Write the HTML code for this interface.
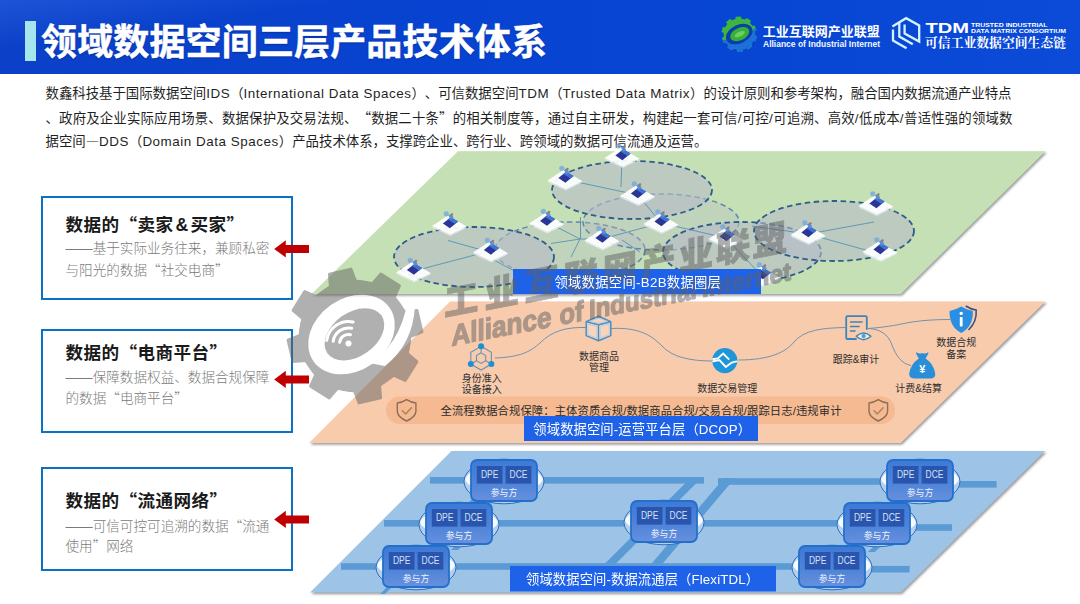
<!DOCTYPE html>
<html lang="zh-CN">
<head>
<meta charset="utf-8">
<title>领域数据空间三层产品技术体系</title>
<style>
html,body{margin:0;padding:0;}
body{width:1080px;height:604px;overflow:hidden;background:#fff;position:relative;
  font-family:"Liberation Sans","Noto Sans CJK SC",sans-serif;}
#hdr{position:absolute;left:0;top:0;width:1080px;height:74.4px;
  background:linear-gradient(172deg,rgba(70,130,245,0.30) 0%,rgba(70,130,245,0) 22%),linear-gradient(90deg,#0c40c8 0%,#0743d0 40%,#0746d3 70%,#0b4bd8 100%);}
#hdr .bar{position:absolute;left:24.5px;top:21px;width:11px;height:39.5px;background:#a5e6ee;}
#hdr h1{position:absolute;left:41px;top:17px;-webkit-text-stroke:0.5px #fff;margin:0;font-size:36px;line-height:52px;font-weight:700;color:#fff;
  white-space:nowrap;letter-spacing:0.15px;text-shadow:0 1px 2px rgba(0,20,90,0.45);}
.para{position:absolute;left:45.5px;white-space:nowrap;font-size:13.4px;line-height:24px;color:#1f1f1f;height:24px;text-spacing-trim:space-all;}
.para .l{letter-spacing:0.55px;}
.para .q{font-family:"Noto Sans CJK SC",sans-serif;font-feature-settings:"fwid";}
.box{text-spacing-trim:space-all;position:absolute;left:41px;width:248px;height:100px;border:2px solid #0a72c4;background:#fff;}
.q{font-family:"Noto Sans CJK SC",sans-serif;font-feature-settings:"fwid";}
.box .t{position:absolute;left:22.5px;font-size:17.6px;line-height:26px;font-weight:700;color:#1a1a1a;white-space:nowrap;letter-spacing:0.4px;}
.box .s{position:absolute;left:22.5px;font-size:13.6px;line-height:21px;color:#7a7a7a;white-space:nowrap;font-weight:300;}
#dia{position:absolute;left:0;top:0;}
</style>
</head>
<body>
<div id="hdr">
  <div class="bar"></div>
  <h1>领域数据空间三层产品技术体系</h1>
</div>

<div class="para" style="top:81.5px" id="p1">数鑫科技基于国际数据空间<span class="l">IDS</span>（<span class="l">International Data Spaces</span>）、可信数据空间<span class="l">TDM</span>（<span class="l">Trusted Data Matrix</span>）的设计原则和参考架构，融合国内数据流通产业特点</div>
<div class="para" style="top:105px;letter-spacing:0.18px" id="p2">、政府及企业实际应用场景、数据保护及交易法规、<span class="q">“</span>数据二十条<span class="q">”</span>的相关制度等，通过自主研发，构建起一套可信<span class="l">/</span>可控<span class="l">/</span>可追溯、高效<span class="l">/</span>低成本<span class="l">/</span>普适性强的领域数</div>
<div class="para" style="top:127.7px" id="p3">据空间<span class="q">—</span><span class="l">DDS</span>（<span class="l">Domain Data Spaces</span>）产品技术体系，支撑跨企业、跨行业、跨领域的数据可信流通及运营。</div>

<div class="box" style="top:196px">
  <div class="t" style="top:13.4px">数据的<span class="q">“</span>卖家<span style="margin:0 2px">&amp;</span>买家<span class="q">”</span></div>
  <div class="s" style="top:39.5px">——基于实际业务往来，兼顾私密</div>
  <div class="s" style="top:60.9px">与阳光的数据<span class="q">“</span>社交电商<span class="q">”</span></div>
</div>
<div class="box" style="top:329px">
  <div class="t" style="top:7.7px">数据的<span class="q">“</span>电商平台<span class="q">”</span></div>
  <div class="s" style="top:36px">——保障数据权益、数据合规保障</div>
  <div class="s" style="top:56px">的数据<span class="q">“</span>电商平台<span class="q">”</span></div>
</div>
<div class="box" style="top:467px">
  <div class="t" style="top:18px">数据的<span class="q">“</span>流通网络<span class="q">”</span></div>
  <div class="s" style="top:45.5px">——可信可控可追溯的数据<span class="q">“</span>流通</div>
  <div class="s" style="top:66.3px">使用<span class="q">”</span>网络</div>
</div>

<svg id="dia" width="1080" height="604" viewBox="0 0 1080 604"
  font-family="'Liberation Sans','Noto Sans CJK SC',sans-serif">
  <defs>
    <filter id="sh" x="-5%" y="-5%" width="110%" height="115%">
      <feGaussianBlur stdDeviation="0.8"/>
    </filter>
  </defs>
  <!-- LAYER SHADOWS -->
  <g fill="#5f5f5f" opacity="0.6" filter="url(#sh)">
    <polygon points="459.5,152.8 1047,152.8 902,295.7 313,295.7"/>
    <polygon points="451.5,303 1047,303 902,444.7 310.5,444.7"/>
    <polygon points="453,452.6 1046.6,452.6 902,594.2 311.5,594.2"/>
  </g>
  <!-- LAYER 1 -->
  <polygon id="L1" points="458,151.3 1045.5,151.3 900.8,294 311.5,294" fill="#c5e0b4"/>
  <!-- LAYER 2 -->
  <polygon id="L2" points="450,301.4 1045.5,301.4 900.8,443 309,443" fill="#f8cbad"/>
  <!-- LAYER 3 -->
  <polygon id="L3" points="451.5,451 1045.1,451 900.8,592.5 310,592.5" fill="#9dc3e6"/>
  <!--L1START-->
<g id="l1">
<ellipse cx="570" cy="250" rx="75" ry="28" fill="#b6bac8" fill-opacity="0.35" stroke="#5f86ae" stroke-width="1.5" stroke-dasharray="5.5 3.5"/>
<ellipse cx="661" cy="222" rx="78" ry="28" fill="#b6bac8" fill-opacity="0.35" stroke="#5f86ae" stroke-width="1.5" stroke-dasharray="5.5 3.5"/>
<ellipse cx="474" cy="257" rx="80" ry="30" fill="#b6bac8" fill-opacity="0.6" stroke="#2d5d88" stroke-width="1.8" stroke-dasharray="5.5 3.5"/>
<ellipse cx="632" cy="190" rx="80" ry="29" fill="#b6bac8" fill-opacity="0.6" stroke="#2d5d88" stroke-width="1.8" stroke-dasharray="5.5 3.5"/>
<ellipse cx="742" cy="252" rx="79" ry="30" fill="#b6bac8" fill-opacity="0.6" stroke="#2d5d88" stroke-width="1.8" stroke-dasharray="5.5 3.5"/>
<ellipse cx="834" cy="231" rx="80" ry="30" fill="#b6bac8" fill-opacity="0.6" stroke="#2d5d88" stroke-width="1.8" stroke-dasharray="5.5 3.5"/>
<g stroke="#4c8db3" stroke-width="0.9" fill="none" opacity="0.9">
<line x1="448" y1="240.5" x2="489" y2="252"/>
<line x1="490" y1="251" x2="414" y2="271"/>
<line x1="492" y1="259" x2="516" y2="272"/>
<line x1="547" y1="222" x2="580" y2="239"/>
<line x1="580.5" y1="217" x2="580.5" y2="239"/>
<line x1="580" y1="239" x2="551" y2="243.5"/>
<line x1="580" y1="239" x2="571" y2="257"/>
<line x1="580" y1="239" x2="602" y2="239"/>
<line x1="602" y1="239" x2="661" y2="223"/>
<line x1="622" y1="240" x2="640" y2="252"/>
<line x1="565" y1="179.5" x2="638" y2="195"/>
<line x1="622" y1="157" x2="621" y2="187"/>
<line x1="638" y1="195" x2="661" y2="223"/>
<line x1="661" y1="223" x2="726" y2="238"/>
<line x1="726" y1="238" x2="762" y2="276"/>
<line x1="808" y1="234" x2="874" y2="222"/>
<line x1="808" y1="234" x2="873" y2="252"/>
<line x1="752" y1="226" x2="808" y2="234"/>
</g>
<defs><g id="nd"><polygon points="-17.5,1 -1.5,-9.5 17.5,1.8 0.8,9.8" fill="#fff" fill-opacity="0.93"/><polygon points="-16,3.2 0.8,11 16,3.6 17.5,1.8 0.8,9.8 -17.5,1" fill="#e4ecf4" fill-opacity="0.8"/><circle cx="-3.2" cy="-11.2" r="2.6" fill="#6fa6dc" fill-opacity="0.75"/><polygon points="-6.6,-1.6 1.2,-7.8 8.6,-3.4 0.4,3.2" fill="#2b3596"/><polygon points="-1.5,-5.6 1.2,-7.8 8.6,-3.4 5.6,-1" fill="#3f73d0"/><polygon points="-1,-9.5 2,-11.5 4.2,-7 1.2,-5.2" fill="#5a8fd6"/><circle cx="2.6" cy="-10.6" r="1.1" fill="#b9733c"/></g></defs>
<use href="#nd" x="449.5" y="225"/>
<use href="#nd" x="490.5" y="251.5"/>
<use href="#nd" x="413.5" y="271.5"/>
<use href="#nd" x="546.6" y="222.5"/>
<use href="#nd" x="565" y="179.5"/>
<use href="#nd" x="602" y="239.5"/>
<use href="#nd" x="637.5" y="195"/>
<use href="#nd" x="661" y="223"/>
<use href="#nd" x="622" y="157"/>
<use href="#nd" x="726" y="238"/>
<use href="#nd" x="762.5" y="276"/>
<use href="#nd" x="876" y="205"/>
<use href="#nd" x="808" y="234"/>
<use href="#nd" x="880" y="251"/>
<rect x="513" y="269" width="248" height="25" fill="#1f62ea"/>
</g>
<!--L1END-->
  <!--L2START-->
<g id="l2">
<rect x="386" y="396.5" width="509" height="27.5" rx="13.75" fill="#f4b88f" opacity="0.95"/>
<g fill="none" stroke="#6f93ad" stroke-width="1">
<path d="M495,358 C520,357 530,352 540,343 C552,331 566,327 586,327.5"/>
<path d="M611,328.5 C640,327 652,336 662,346 C672,357 690,361 712,361"/>
<path d="M738.5,360 C770,360 786,352 794,342 C804,330 822,328 845,327.5"/>
<path d="M868,328.5 C890,327 900,324 912,322 C925,320 938,319.5 950,319.5"/>
<path d="M868,328.5 C880,329 888,334 892,345 C896,356 902,364 911,365.5"/>
</g>
<g id="ic1" fill="none" stroke="#6d93b2" stroke-width="1.1">
<polygon points="481.1,346.2 470.8,352.2 470.8,364.1 481.1,370.0 491.4,364.1 491.4,352.2"/>
<polygon points="481.1,352.8 476.5,355.5 476.5,360.8 481.1,363.4 485.7,360.8 485.7,355.5"/>
<line x1="481.1" y1="352.8" x2="481.1" y2="346.2"/>
<line x1="476.5" y1="360.8" x2="470.8" y2="364.1"/>
<line x1="485.7" y1="360.8" x2="491.4" y2="364.1"/>
<circle cx="481.1" cy="346.2" r="3" fill="#1f8fd2" stroke="none"/>
<circle cx="470.8" cy="364.1" r="3" fill="#1f8fd2" stroke="none"/>
<circle cx="491.4" cy="364.1" r="3" fill="#1f8fd2" stroke="none"/>
</g>
<g id="ic2" fill="none" stroke-linejoin="round">
<polygon points="598.5,316.2 610.8,321.8 610.8,335.6 598.5,340.8 586.2,335.6 586.2,321.8" fill="#fbdcc8" fill-opacity="0.6" stroke="#4a8ec6" stroke-width="1.5"/>
<path d="M586.2,321.8 L598.5,324.7 L610.8,321.8 M598.5,324.7 V340.8" stroke="#4a8ec6" stroke-width="1.5"/>
<path d="M587.9,324.1 L596.8,326.3 V338.1 L587.9,334.4Z M609.1,324.1 L600.2,326.3 V338.1 L609.1,334.4Z M598.5,318.1 L607.5,321.3 L598.5,323.1 L589.5,321.3Z" stroke="#a5cdea" stroke-width="0.8"/>
</g>
<g id="ic3">
<circle cx="724.8" cy="360.6" r="12.6" fill="#1e96d8"/>
<path d="M712.4,359.20000000000005 L717.8,358.40000000000003 L723.1999999999999,353.6 L729.1999999999999,359.6" fill="none" stroke="#fff" stroke-width="1.9" stroke-linejoin="miter"/>
<path d="M712.4,361.5 L719.4,360.1 L725.8,366.90000000000003 L731.4,362.8 Q733.8,361.6 737.1999999999999,361.40000000000003" fill="none" stroke="#fff" stroke-width="1.9" stroke-linejoin="miter"/>
</g>
<g id="ic4" fill="none" stroke="#3c85ba" stroke-width="1.8" stroke-linecap="round" stroke-linejoin="round">
<path d="M856,339 H847.5 Q846.2,339 846.2,337.7 V317.5 Q846.2,316.2 847.5,316.2 H865.5 Q866.8,316.2 866.8,317.5 V329"/>
<path d="M850.5,322 H862 M850.5,326.5 H859 M850.5,331 H855" stroke-width="1.6"/>
<path d="M856.2,336.3 Q863.6,329.5 871,336.3 Q863.6,343 856.2,336.3Z" fill="#fce9dc" stroke-width="1.4"/>
<circle cx="863.6" cy="336.1" r="2.1" fill="#4a9fd8" stroke="none"/>
</g>
<g id="ic5">
<path d="M965.7,306 Q971.2,309.4 976.2,310 Q977,322 968.5,330" fill="none" stroke="#34507f" stroke-width="1.5"/>
<path d="M961.2,306.6 Q967.2,310.3 972.8,310.9 Q973.5,326.2 961.2,333 Q948.9,326.2 949.6,310.9 Q955.2,310.3 961.2,306.6Z" fill="#2a8fe2"/>
<rect x="959.8" y="317" width="2.8" height="9.6" rx="0.8" fill="#fff"/>
<circle cx="961.2" cy="313.4" r="1.7" fill="#fff"/>
</g>
<g id="ic6">
<path d="M916.7,352.6 Q919.5,354.4 922.2,352.9 Q925.0,354.4 927.8,352.6 Q929.0,352.4 928.2,353.8 L925.6,358.4 Q933.8,364 935.2,373.4 Q935.6,378.4 930.2,378.4 H915 Q908.8,378.4 909.2,373.4 Q910.6,364 918.8,358.4 L916.2,353.8 Q915.5,352.4 916.7,352.6Z" fill="#2a8fd8"/>
<text x="922.2" y="373.4" font-size="11" font-weight="700" fill="#fff" text-anchor="middle">¥</text>
</g>
<g fill="none" stroke="#8d6e58" stroke-width="1.4" stroke-linejoin="round" stroke-linecap="round"><path d="M406.6,399.7 Q411.1,402.59999999999997 415.90000000000003,403.0 V411.7 Q415.20000000000005,417.4 406.6,421.0 Q398.0,417.4 397.3,411.7 V403.0 Q402.1,402.59999999999997 406.6,399.7Z"/><path d="M402.40000000000003,410.8 L405.6,414.0 L411.40000000000003,407.8" stroke="#a8895f" stroke-width="1.6"/></g>
<g fill="none" stroke="#8d6e58" stroke-width="1.4" stroke-linejoin="round" stroke-linecap="round"><path d="M878.3,399.7 Q882.8,402.59999999999997 887.5999999999999,403.0 V411.7 Q886.9,417.4 878.3,421.0 Q869.6999999999999,417.4 869.0,411.7 V403.0 Q873.8,402.59999999999997 878.3,399.7Z"/><path d="M874.0999999999999,410.8 L877.3,414.0 L883.0999999999999,407.8" stroke="#a8895f" stroke-width="1.6"/></g>
<text x="481.8" y="382" fill="#2e2e2e" font-size="10" text-anchor="middle" >身份准入</text>
<text x="481.8" y="393.3" fill="#2e2e2e" font-size="10" text-anchor="middle" >设备接入</text>
<text x="598.9" y="359.6" fill="#2e2e2e" font-size="10" text-anchor="middle" >数据商品</text>
<text x="598.9" y="371.4" fill="#2e2e2e" font-size="10" text-anchor="middle" >管理</text>
<text x="727.2" y="392.2" fill="#2e2e2e" font-size="10" text-anchor="middle" >数据交易管理</text>
<text x="856" y="362.6" fill="#2e2e2e" font-size="10" text-anchor="middle" >跟踪&amp;审计</text>
<text x="956.3" y="346.4" fill="#2e2e2e" font-size="10" text-anchor="middle" >数据合规</text>
<text x="956.3" y="357.6" fill="#2e2e2e" font-size="10" text-anchor="middle" >备案</text>
<text x="918.6" y="392.2" fill="#2e2e2e" font-size="10" text-anchor="middle" >计费&amp;结算</text>
<text x="440.5" y="415.2" font-size="11.3" fill="#2b2b2b" textLength="401" lengthAdjust="spacing">全流程数据合规保障：主体资质合规/数据商品合规/交易合规/跟踪日志/违规审计</text>
<rect x="524" y="416" width="234" height="25" fill="#1f62ea"/>
</g>
<!--L2END-->
  <!--L3CONTENT-->
<g id="l3">
<defs><linearGradient id="ng" x1="0" y1="0" x2="0" y2="1"><stop offset="0" stop-color="#3d7ad6"/><stop offset="0.55" stop-color="#4d84d8"/><stop offset="1" stop-color="#688fde"/></linearGradient></defs>
<rect x="430" y="477.0" width="274" height="6.6" fill="#5b9bd5"/>
<rect x="718" y="478.2" width="172" height="6.6" fill="#5b9bd5"/>
<rect x="950" y="481.0" width="46.60000000000002" height="6.6" fill="#5b9bd5"/>
<rect x="384" y="520.0" width="466" height="6.6" fill="#5b9bd5"/>
<rect x="905" y="524.2" width="47" height="6.6" fill="#5b9bd5"/>
<rect x="341" y="563.2" width="464" height="6.6" fill="#5b9bd5"/>
<rect x="866" y="565.9" width="43.60000000000002" height="6.6" fill="#5b9bd5"/>
<polygon points="691.5,477 702.5,477 614,565.5 603,565.5" fill="#5b9bd5"/>
<polygon points="724,478 735,478 661,565.5 650,565.5" fill="#5b9bd5"/>
<polygon points="893,498 900,498 893,505 886,505" fill="#5b9bd5"/>
<polygon points="850,541 857,541 850,548 843,548" fill="#5b9bd5"/>
<polygon points="879,541 886,541 875,552 868,552" fill="#5b9bd5"/>
<polygon points="476,495 483,495 473,505 466,505" fill="#5b9bd5"/>
<polygon points="461,540 468,540 458,550 451,550" fill="#5b9bd5"/>
<polygon points="390,584 395,584 385,594 380,594" fill="#5b9bd5"/>
<ellipse cx="504.0" cy="481.5" rx="40" ry="22.3" fill="#b4d0ee" stroke="#2f6fbe" stroke-width="1"/>
<path d="M465.0,479.5 q1.5,-4.5 6,-7 v13 q-4.5,-2 -6,-6z M543.0,479.5 q-1.5,-4.5 -6,-7 v13 q4.5,-2 6,-6z" fill="#f6fafe"/>
<rect x="471" y="460" width="66" height="41" rx="6" ry="6" fill="url(#ng)" stroke="#2370cc" stroke-width="1.8"/>
<rect x="476.8" y="466" width="25.7" height="17.6" fill="#2a55ae"/>
<rect x="505.6" y="466" width="25.7" height="17.6" fill="#2a55ae"/>
<text x="480.9" y="478.4" font-size="10.3" fill="#d3e2f6" textLength="17.6" lengthAdjust="spacingAndGlyphs">DPE</text>
<text x="509.6" y="478.4" font-size="10.3" fill="#d3e2f6" textLength="17.8" lengthAdjust="spacingAndGlyphs">DCE</text>
<text x="504.0" y="496.3" font-size="8.8" fill="#eef3fc" text-anchor="middle">参与方</text>
<ellipse cx="459.0" cy="524.5" rx="40" ry="22.3" fill="#b4d0ee" stroke="#2f6fbe" stroke-width="1"/>
<path d="M420.0,522.5 q1.5,-4.5 6,-7 v13 q-4.5,-2 -6,-6z M498.0,522.5 q-1.5,-4.5 -6,-7 v13 q4.5,-2 6,-6z" fill="#f6fafe"/>
<rect x="426" y="503" width="66" height="41" rx="6" ry="6" fill="url(#ng)" stroke="#2370cc" stroke-width="1.8"/>
<rect x="431.8" y="509" width="25.7" height="17.6" fill="#2a55ae"/>
<rect x="460.6" y="509" width="25.7" height="17.6" fill="#2a55ae"/>
<text x="435.9" y="521.4" font-size="10.3" fill="#d3e2f6" textLength="17.6" lengthAdjust="spacingAndGlyphs">DPE</text>
<text x="464.6" y="521.4" font-size="10.3" fill="#d3e2f6" textLength="17.8" lengthAdjust="spacingAndGlyphs">DCE</text>
<text x="459.0" y="539.3" font-size="8.8" fill="#eef3fc" text-anchor="middle">参与方</text>
<ellipse cx="416.0" cy="567.5" rx="40" ry="22.3" fill="#b4d0ee" stroke="#2f6fbe" stroke-width="1"/>
<path d="M377.0,565.5 q1.5,-4.5 6,-7 v13 q-4.5,-2 -6,-6z M455.0,565.5 q-1.5,-4.5 -6,-7 v13 q4.5,-2 6,-6z" fill="#f6fafe"/>
<rect x="383" y="546" width="66" height="41" rx="6" ry="6" fill="url(#ng)" stroke="#2370cc" stroke-width="1.8"/>
<rect x="388.8" y="552" width="25.7" height="17.6" fill="#2a55ae"/>
<rect x="417.6" y="552" width="25.7" height="17.6" fill="#2a55ae"/>
<text x="392.9" y="564.4" font-size="10.3" fill="#d3e2f6" textLength="17.6" lengthAdjust="spacingAndGlyphs">DPE</text>
<text x="421.6" y="564.4" font-size="10.3" fill="#d3e2f6" textLength="17.8" lengthAdjust="spacingAndGlyphs">DCE</text>
<text x="416.0" y="582.3" font-size="8.8" fill="#eef3fc" text-anchor="middle">参与方</text>
<ellipse cx="664.0" cy="522.5" rx="40" ry="22.3" fill="#b4d0ee" stroke="#2f6fbe" stroke-width="1"/>
<path d="M625.0,520.5 q1.5,-4.5 6,-7 v13 q-4.5,-2 -6,-6z M703.0,520.5 q-1.5,-4.5 -6,-7 v13 q4.5,-2 6,-6z" fill="#f6fafe"/>
<rect x="631" y="501" width="66" height="41" rx="6" ry="6" fill="url(#ng)" stroke="#2370cc" stroke-width="1.8"/>
<rect x="636.8" y="507" width="25.7" height="17.6" fill="#2a55ae"/>
<rect x="665.6" y="507" width="25.7" height="17.6" fill="#2a55ae"/>
<text x="640.9" y="519.4" font-size="10.3" fill="#d3e2f6" textLength="17.6" lengthAdjust="spacingAndGlyphs">DPE</text>
<text x="669.6" y="519.4" font-size="10.3" fill="#d3e2f6" textLength="17.8" lengthAdjust="spacingAndGlyphs">DCE</text>
<text x="664.0" y="537.3" font-size="8.8" fill="#eef3fc" text-anchor="middle">参与方</text>
<ellipse cx="920.0" cy="481.5" rx="40" ry="22.3" fill="#b4d0ee" stroke="#2f6fbe" stroke-width="1"/>
<path d="M881.0,479.5 q1.5,-4.5 6,-7 v13 q-4.5,-2 -6,-6z M959.0,479.5 q-1.5,-4.5 -6,-7 v13 q4.5,-2 6,-6z" fill="#f6fafe"/>
<rect x="887" y="460" width="66" height="41" rx="6" ry="6" fill="url(#ng)" stroke="#2370cc" stroke-width="1.8"/>
<rect x="892.8" y="466" width="25.7" height="17.6" fill="#2a55ae"/>
<rect x="921.6" y="466" width="25.7" height="17.6" fill="#2a55ae"/>
<text x="896.9" y="478.4" font-size="10.3" fill="#d3e2f6" textLength="17.6" lengthAdjust="spacingAndGlyphs">DPE</text>
<text x="925.6" y="478.4" font-size="10.3" fill="#d3e2f6" textLength="17.8" lengthAdjust="spacingAndGlyphs">DCE</text>
<text x="920.0" y="496.3" font-size="8.8" fill="#eef3fc" text-anchor="middle">参与方</text>
<ellipse cx="877.0" cy="524.5" rx="40" ry="22.3" fill="#b4d0ee" stroke="#2f6fbe" stroke-width="1"/>
<path d="M838.0,522.5 q1.5,-4.5 6,-7 v13 q-4.5,-2 -6,-6z M916.0,522.5 q-1.5,-4.5 -6,-7 v13 q4.5,-2 6,-6z" fill="#f6fafe"/>
<rect x="844" y="503" width="66" height="41" rx="6" ry="6" fill="url(#ng)" stroke="#2370cc" stroke-width="1.8"/>
<rect x="849.8" y="509" width="25.7" height="17.6" fill="#2a55ae"/>
<rect x="878.6" y="509" width="25.7" height="17.6" fill="#2a55ae"/>
<text x="853.9" y="521.4" font-size="10.3" fill="#d3e2f6" textLength="17.6" lengthAdjust="spacingAndGlyphs">DPE</text>
<text x="882.6" y="521.4" font-size="10.3" fill="#d3e2f6" textLength="17.8" lengthAdjust="spacingAndGlyphs">DCE</text>
<text x="877.0" y="539.3" font-size="8.8" fill="#eef3fc" text-anchor="middle">参与方</text>
<ellipse cx="832.0" cy="567.5" rx="40" ry="22.3" fill="#b4d0ee" stroke="#2f6fbe" stroke-width="1"/>
<path d="M793.0,565.5 q1.5,-4.5 6,-7 v13 q-4.5,-2 -6,-6z M871.0,565.5 q-1.5,-4.5 -6,-7 v13 q4.5,-2 6,-6z" fill="#f6fafe"/>
<rect x="799" y="546" width="66" height="41" rx="6" ry="6" fill="url(#ng)" stroke="#2370cc" stroke-width="1.8"/>
<rect x="804.8" y="552" width="25.7" height="17.6" fill="#2a55ae"/>
<rect x="833.6" y="552" width="25.7" height="17.6" fill="#2a55ae"/>
<text x="808.9" y="564.4" font-size="10.3" fill="#d3e2f6" textLength="17.6" lengthAdjust="spacingAndGlyphs">DPE</text>
<text x="837.6" y="564.4" font-size="10.3" fill="#d3e2f6" textLength="17.8" lengthAdjust="spacingAndGlyphs">DCE</text>
<text x="832.0" y="582.3" font-size="8.8" fill="#eef3fc" text-anchor="middle">参与方</text>
<rect x="510" y="566" width="266" height="25.5" fill="#1f62ea"/>
</g>

    <!--LOGOSTART-->
<g id="logos">
<defs><linearGradient id="gg" x1="0" y1="0" x2="1" y2="1"><stop offset="0" stop-color="#3cb54a"/><stop offset="0.5" stop-color="#3cb54a"/><stop offset="0.5" stop-color="#1b86d9"/><stop offset="1" stop-color="#1b86d9"/></linearGradient><clipPath id="gclip"><path d="M754.76,35.14 L756.88,36.18 L755.55,41.14 L753.20,40.98 L751.18,44.09 L752.28,46.18 L748.29,49.40 L746.49,47.89 L743.02,49.23 L742.68,51.56 L737.56,51.82 L736.99,49.54 L733.40,48.58 L731.76,50.27 L727.46,47.48 L728.33,45.29 L725.99,42.40 L723.67,42.81 L721.84,38.02 L723.83,36.77 L723.64,33.06 L721.52,32.02 L722.85,27.06 L725.20,27.22 L727.22,24.11 L726.12,22.02 L730.11,18.80 L731.91,20.31 L735.38,18.97 L735.72,16.64 L740.84,16.38 L741.41,18.66 L745.00,19.62 L746.64,17.93 L750.94,20.72 L750.07,22.91 L752.41,25.80 L754.73,25.39 L756.56,30.18 L754.57,31.43Z"/></clipPath></defs>
<path d="M754.76,35.14 L756.88,36.18 L755.55,41.14 L753.20,40.98 L751.18,44.09 L752.28,46.18 L748.29,49.40 L746.49,47.89 L743.02,49.23 L742.68,51.56 L737.56,51.82 L736.99,49.54 L733.40,48.58 L731.76,50.27 L727.46,47.48 L728.33,45.29 L725.99,42.40 L723.67,42.81 L721.84,38.02 L723.83,36.77 L723.64,33.06 L721.52,32.02 L722.85,27.06 L725.20,27.22 L727.22,24.11 L726.12,22.02 L730.11,18.80 L731.91,20.31 L735.38,18.97 L735.72,16.64 L740.84,16.38 L741.41,18.66 L745.00,19.62 L746.64,17.93 L750.94,20.72 L750.07,22.91 L752.41,25.80 L754.73,25.39 L756.56,30.18 L754.57,31.43Z" fill="#3db540"/>
<g clip-path="url(#gclip)"><path d="M759.2,22.1 Q749.2,40.1 719.2,40.1 L719.2,54.1 L759.2,54.1Z" fill="#1d70dc"/></g>
<g transform="rotate(-25 739.2 34.1)">
<ellipse cx="739.2" cy="34.1" rx="14" ry="9.2" fill="#0b3fa8"/>
<ellipse cx="739.7" cy="34.300000000000004" rx="10.2" ry="6.2" fill="#35b03c"/>
<ellipse cx="739.7" cy="34.300000000000004" rx="5.5" ry="2.4" fill="#6fcf5e"/>
</g>
<text x="762.8" y="36.2" font-size="13" font-weight="700" fill="#fff" textLength="117" lengthAdjust="spacing">工业互联网产业联盟</text>
<text x="763" y="46.8" font-size="8.6" font-weight="700" fill="#f2f6ff" textLength="117" lengthAdjust="spacingAndGlyphs">Alliance of Industrial Internet</text>
<g fill="none" stroke="#d4f2ff" stroke-width="2.3" stroke-linejoin="miter" stroke-linecap="butt">
<polyline points="892.4,26.6 906.1,18.2 919.2,25.4 919.2,41.6 904.6,33.6 904.6,24.6"/>
<polyline points="899.3,23 899.3,36.6 912.8,44.3"/>
<polyline points="893,29.5 893,40.6 906.6,48.3"/>
</g>
<text x="925.4" y="33" font-size="14.4" font-weight="700" fill="#fff" textLength="43.6" lengthAdjust="spacingAndGlyphs">TDM</text>
<text x="971" y="26.9" font-size="6" font-weight="700" fill="#fff" textLength="76.6" lengthAdjust="spacingAndGlyphs">TRUSTED INDUSTRIAL</text>
<text x="971" y="33" font-size="6" font-weight="700" fill="#fff" textLength="95" lengthAdjust="spacingAndGlyphs">DATA MATRIX CONSORTIUM</text>
<text x="925" y="47.2" font-size="12.8" font-weight="700" fill="#fff" font-family="'Liberation Serif','Noto Serif CJK SC',serif" textLength="141" lengthAdjust="spacing">可信工业数据空间生态链</text>
</g>
<!--LOGOEND-->
  <!--TOPSTART-->
<g id="arrows" fill="#c00000">
<polygon points="274.2,248.9 285.8,240.3 285.8,244.9 309,244.9 309,252.9 285.8,252.9 285.8,257.5"/>
<polygon points="274.2,379.4 285.8,370.79999999999995 285.8,375.4 309,375.4 309,383.4 285.8,383.4 285.8,388.0"/>
<polygon points="274.2,519.4 285.8,510.79999999999995 285.8,515.4 309,515.4 309,523.4 285.8,523.4 285.8,528.0"/>
</g>
<g id="wm" opacity="0.5">
<path d="M404.2,311.5 L416.9,310.4 L421.9,331.9 L410.0,336.5 L407.2,353.5 L416.9,361.7 L405.2,380.4 L393.6,375.2 L379.5,385.2 L380.6,397.9 L359.1,402.9 L354.5,391.0 L337.5,388.2 L329.3,397.9 L310.6,386.2 L315.8,374.6 L305.8,360.5 L293.1,361.6 L288.1,340.1 L300.0,335.5 L302.8,318.5 L293.1,310.3 L304.8,291.6 L316.4,296.8 L330.5,286.8 L329.4,274.1 L350.9,269.1 L355.5,281.0 L372.5,283.8 L380.7,274.1 L399.4,285.8 L394.2,297.4Z" fill="#606060" stroke="#606060" stroke-width="3" stroke-linejoin="round"/>
<circle cx="355" cy="336" r="56" fill="#606060"/>
<g transform="rotate(-35 351.5 334.5)">
<ellipse cx="351.5" cy="334.5" rx="46.5" ry="36" fill="#fff"/>
<ellipse cx="354.0" cy="336.0" rx="33" ry="22" fill="#606060"/>
</g>
<path d="M369,363 Q399,346 407,304 L415,306 Q413,344 385,366Z" fill="#fff"/>
<g fill="none" stroke="#fff" stroke-width="3" stroke-linecap="round">
<path d="M339.6,342.2 A9,9 0 0 1 350.4,334.7"/>
<path d="M333.2,341.3 A15.5,15.5 0 0 1 351.7,328.3"/>
<path d="M326.7,340.4 A22,22 0 0 1 353.1,322.0"/>
</g>
<circle cx="348.5" cy="343.5" r="3" fill="#fff"/>
<text transform="translate(444,316.5) skewY(-11.0) scale(1,1.05)" x="0.0 40.5 80.5 119.9 158.7 197.0 234.7 271.8 308.4" y="0" font-weight="900" font-size="34.4" fill="#606060" stroke="#606060" stroke-width="0.7">工业互联网产业联盟</text>
<text transform="translate(451.5,346) skewY(-11.0)" font-weight="700" fill="#606060" stroke="#606060" stroke-width="1.3" stroke-linejoin="round"><tspan x="0" font-size="29.5" textLength="100" lengthAdjust="spacingAndGlyphs">Alliance</tspan> <tspan x="108" font-size="28.5" textLength="24" lengthAdjust="spacingAndGlyphs">of</tspan> <tspan x="137.5" font-size="27.5" textLength="108" lengthAdjust="spacingAndGlyphs">Industrial</tspan> <tspan x="250.5" font-size="25.5" textLength="89" lengthAdjust="spacingAndGlyphs">Internet</tspan></text>
</g>
<g id="labtxt" fill="#fff" font-size="13.3">
<text x="554.4" y="286.6" textLength="166.5" lengthAdjust="spacing">领域数据空间-B2B数据圈层</text>
<text x="533.3" y="433.8" textLength="217.7" lengthAdjust="spacing">领域数据空间-运营平台层（DCOP）</text>
<text x="526" y="584" textLength="233" lengthAdjust="spacing">领域数据空间-数据流通层（FlexiTDL）</text>
</g>
<!--TOPEND-->
</svg>
</body>
</html>
